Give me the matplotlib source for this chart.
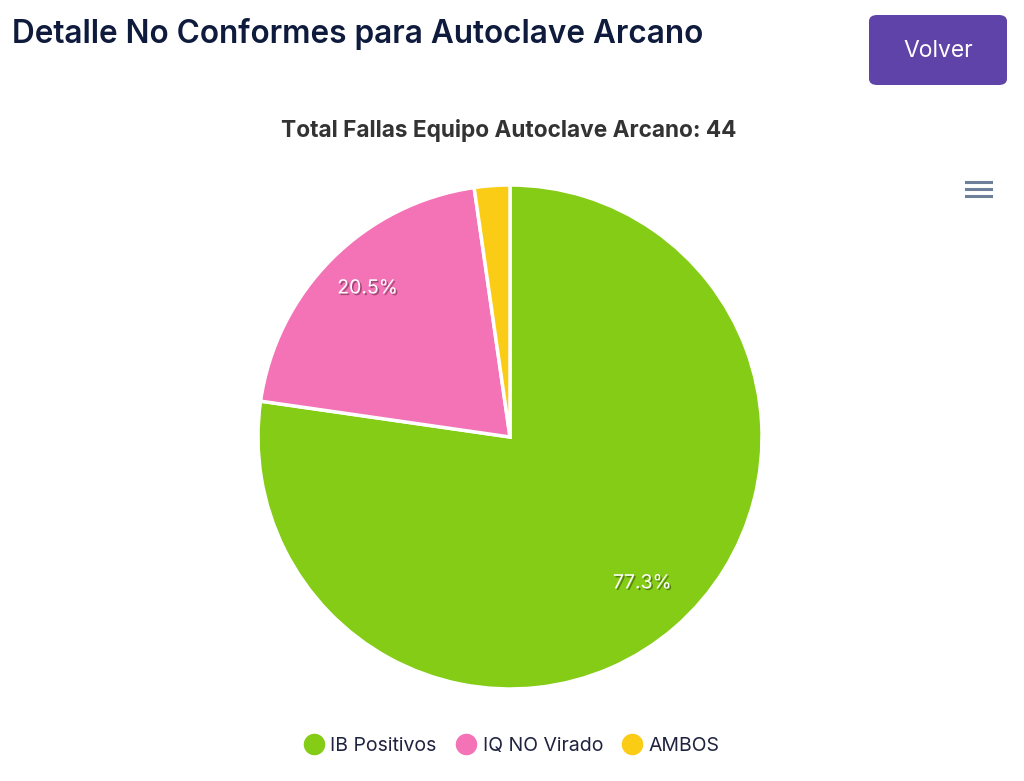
import matplotlib.pyplot as plt
import matplotlib.patheffects as pe
from matplotlib.patches import FancyBboxPatch
from matplotlib.lines import Line2D

categorias = ["IB Positivos", "IQ NO Virado", "AMBOS"]
fallas = [34, 9, 1]
colores = ["#84cc16", "#f472b6", "#facc15"]
titulo = "Detalle No Conformes para Autoclave Arcano"
subtitulo = f"Total Fallas Equipo Autoclave Arcano: {sum(fallas)}"

W, H = 1024, 781
fig = plt.figure(figsize=(W / 100, H / 100), dpi=100)
fig.patch.set_facecolor("white")

# encabezado
fig.text(12 / W, 1 - 34 / H, titulo, fontsize=22.7, fontfamily="Inter", fontweight="semibold",
         color="#0f1b3d", va="center", ha="left")
boton = FancyBboxPatch((869 / W, 1 - 85 / H), 138 / W, 70 / H,
                       boxstyle="round,pad=0,rounding_size=0.008", transform=fig.transFigure,
                       facecolor="#5f43a8", edgecolor="none")
fig.patches.append(boton)
fig.text(938 / W, 1 - 51 / H, "Volver", fontsize=16.5, fontfamily="Inter", color="white",
         ha="center", va="center")

fig.text(509 / W, 1 - 130 / H, subtitulo, fontsize=16.3, fontfamily="Inter", fontweight="bold",
         color="#333333", ha="center", va="center")

# menu
for yy in (182, 189, 196):
    fig.lines.append(Line2D([966 / W, 991 / W], [1 - yy / H, 1 - yy / H], transform=fig.transFigure,
                            color="#6e7f9a", linewidth=2.2))

# pastel
cx, cy, r = 510, 437, 252
ax = fig.add_axes([(cx - r) / W, 1 - (cy + r) / H, 2 * r / W, 2 * r / H])
wedges, _, autotexts = ax.pie(
    fallas, colors=colores, startangle=90, counterclock=False, radius=1,
    autopct=lambda p: f"{p:.1f}%" if p > 5 else "", pctdistance=0.8,
    wedgeprops=dict(edgecolor="white", linewidth=2.5),
    textprops=dict(fontsize=14, fontfamily="Inter", color="white"))
for t in autotexts:
    x, y = t.get_position()
    t.set_position((x, y + 6 / r))
    t.set_path_effects([pe.withSimplePatchShadow(offset=(1.2, -1.2), shadow_rgbFace="black", alpha=0.35)])
ax.set_xlim(-1, 1)
ax.set_ylim(-1, 1)
ax.set_aspect("equal")
ax.axis("off")

handles = [Line2D([], [], marker="o", linestyle="none", markersize=15.5, markerfacecolor=c,
                  markeredgecolor="none") for c in colores]
fig.legend(handles, categorias, loc="center", bbox_to_anchor=(0.5, 1 - 746 / H), ncol=3,
           frameon=False, handlelength=1.0, handletextpad=0.35, columnspacing=1.0,
           prop=dict(family="Inter", size=14), labelcolor="#1f2340")

fig.savefig("out.png", dpi=100)
